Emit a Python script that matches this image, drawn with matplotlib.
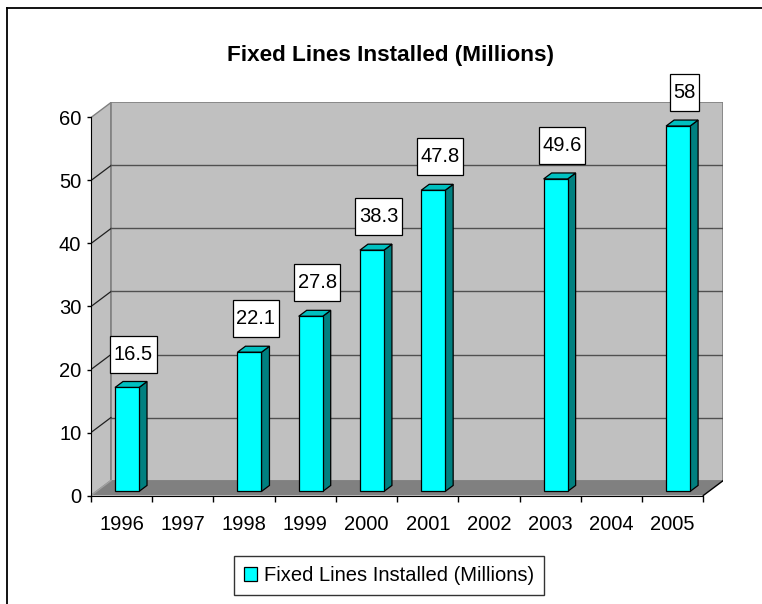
import matplotlib
matplotlib.use("Agg")
import matplotlib.pyplot as plt
import numpy as np
from matplotlib.patches import Polygon, Rectangle
from matplotlib.lines import Line2D
from matplotlib.transforms import IdentityTransform

plt.rcParams['font.family'] = ['Liberation Sans', 'DejaVu Sans']

years = ['1996', '1997', '1998', '1999', '2000', '2001', '2002', '2003', '2004', '2005']
lines_installed = [16.5, np.nan, 22.1, 27.8, 38.3, 47.8, np.nan, 49.6, np.nan, 58]
value_labels = ['16.5', '', '22.1', '27.8', '38.3', '47.8', '', '49.6', '', '58']
y_ticks = [0, 10, 20, 30, 40, 50, 60]
series_name = 'Fixed Lines Installed (Millions)'

W, H = 762, 604
fig = plt.figure(figsize=(W / 100, H / 100), dpi=100)

# plot area in pixels: front plane + depth offset of the fake 3d box
left_px, right_px, top_px, bottom_px = 91, 723.3, 102.5, 495.5
px_cat = 61.23
px_val = 6.3
DX = 20 / px_cat
DY = 15 / px_val
YMAX = 60

ax = fig.add_axes([left_px / W, (H - bottom_px) / H,
                   (right_px - left_px) / W, (bottom_px - top_px) / H])
n = len(years)
ax.set_xlim(0, n + DX)
ax.set_ylim(0, YMAX + DY)
ax.patch.set_visible(False)

wall = '#c0c0c0'
edge_gray = '#808080'

# side wall, back wall, floor
ax.add_patch(Polygon([(0, 0), (0, YMAX), (DX, YMAX + DY), (DX, DY)],
                     closed=True, fc=wall, ec=edge_gray, lw=1, zorder=1))
ax.add_patch(Polygon([(DX, DY), (DX, YMAX + DY), (n + DX, YMAX + DY), (n + DX, DY)],
                     closed=True, fc=wall, ec=edge_gray, lw=1.2, zorder=1))
for v in y_ticks[1:-1]:
    ax.plot([0, DX], [v, v + DY], color='#202020', lw=0.9, zorder=2)
    ax.plot([DX, n + DX], [v + DY, v + DY], color='#505050', lw=1.0, zorder=2)
ax.add_patch(Polygon([(0, 0), (n, 0), (n + DX, DY), (DX, DY)],
                     closed=True, fc='#808080', ec='none', zorder=3))
ax.plot([0, DX], [0, DY], color='#a0a0a0', lw=1, zorder=3)
ax.plot([n, n + DX], [0, DY], color='black', lw=1, zorder=3)

# bars sit a little way back in the depth of the box
f0, f1 = 0.27, 0.67
bar_w = 24 / px_cat
bdx = (f1 - f0) * DX
bdy = (f1 - f0) * DY
ox, oy = f0 * DX, f0 * DY
texts = []
for i, (v, lab) in enumerate(zip(lines_installed, value_labels)):
    if np.isnan(v):
        continue
    xl = i + 0.5 - bar_w / 2 + ox
    xr = xl + bar_w
    y0 = oy
    y1 = v + oy
    kw = dict(closed=True, ec='black', lw=0.9, zorder=5)
    ax.add_patch(Polygon([(xr, y0), (xr + bdx, y0 + bdy), (xr + bdx, y1 + bdy), (xr, y1)],
                         fc='#008080', **kw))
    ax.add_patch(Polygon([(xl, y1), (xr, y1), (xr + bdx, y1 + bdy), (xl + bdx, y1 + bdy)],
                         fc='#00c0c0', **kw))
    ax.add_patch(Rectangle((xl, y0), bar_w, v, fc='#00ffff', ec='black', lw=0.9, zorder=5))
    t = ax.annotate(lab, (i + 0.5 + ox, y1), xytext=(6.5, 28), textcoords='offset pixels',
                    ha='center', va='baseline', fontsize=14.5, zorder=8,
                    annotation_clip=False)
    texts.append(t)

# axes lines and ticks
for s in ['top', 'right']:
    ax.spines[s].set_visible(False)
ax.spines['left'].set_bounds(0, YMAX)
ax.spines['bottom'].set_bounds(0, n)
ax.spines['left'].set_zorder(4)
ax.spines['bottom'].set_zorder(4)
ax.set_yticks(y_ticks)
ax.set_yticklabels([str(v) for v in y_ticks])
ax.tick_params(axis='y', direction='out', length=3, width=1, pad=4, labelsize=14.5)
ax.set_xticks(np.arange(0, n + 1))
ax.set_xticklabels([])
ax.set_xticks(np.arange(n) + 0.5, minor=True)
ax.set_xticklabels(years, minor=True)
ax.tick_params(axis='x', which='major', direction='out', length=4, width=1)
ax.tick_params(axis='x', which='minor', length=0, pad=14, labelsize=14.5)

fig.text(390.5 / W, 1 - 56 / H, series_name, ha='center', va='center',
         fontsize=16.2, fontweight='bold')

handle = Rectangle((0, 0), 1, 1, fc='#00ffff', ec='black', lw=0.9)
leg = fig.legend([handle], [series_name], loc='center',
                 bbox_to_anchor=(389 / W, 1 - 575.5 / H), fontsize=14.5,
                 frameon=True, fancybox=False, handlelength=0.65, handleheight=0.65,
                 handletextpad=0.3, borderpad=0.5, borderaxespad=0)
leg.get_frame().set_edgecolor('black')
leg.get_frame().set_linewidth(1)

# outer chart border (left and top edges)
fig.add_artist(Line2D([7 / W, 7 / W], [0, 1 - 8 / H], color='black', lw=1.3))
fig.add_artist(Line2D([7 / W, 1], [1 - 8 / H, 1 - 8 / H], color='black', lw=1.3))

# white label boxes sized from the rendered text
fig.canvas.draw()
for t in texts:
    bb = t.get_window_extent()
    base = ax.transData.transform(t.xy)[1] + 28
    ax.add_patch(Rectangle((bb.x0 - 3.5, base - 13), bb.width + 7, 37,
                           transform=IdentityTransform(), fc='white', ec='black',
                           lw=0.9, zorder=7, clip_on=False))
ax.set_xlim(0, n + DX)
ax.set_ylim(0, YMAX + DY)

fig.savefig('out.png', dpi=100)
